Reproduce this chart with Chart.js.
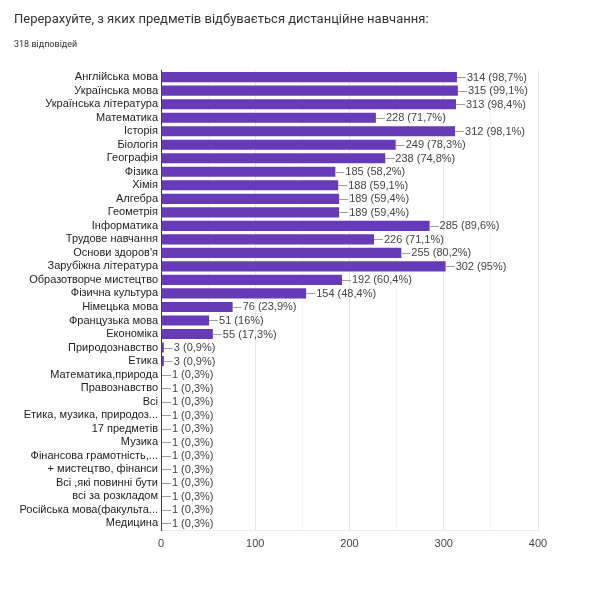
<!DOCTYPE html>
<html>
<head>
<meta charset="utf-8">
<script src="https://cdn.jsdelivr.net/npm/chart.js@4"></script>
<style>
  html, body { margin: 0; padding: 0; background: #fff; }
  #wrap { width: 600px; height: 600px; }
</style>
</head>
<body>
<div id="wrap"><canvas id="myChart" width="600" height="600"></canvas></div>
<script>
const categories = [
    'Англійська мова', 'Українська мова', 'Українська література', 'Математика',
    'Історія', 'Біологія', 'Географія', 'Фізика', 'Хімія', 'Алгебра', 'Геометрія',
    'Інформатика', 'Трудове навчання', "Основи здоров'я", 'Зарубіжна література',
    'Образотворче мистецтво', 'Фізична культура', 'Німецька мова', 'Французька мова',
    'Економіка', 'Природознавство', 'Етика', 'Математика,природа', 'Правознавство',
    'Всі', 'Етика, музика, природоз...', '17 предметів', 'Музика',
    'Фінансова грамотність,...', '+ мистецтво, фінанси', 'Всі ,які повинні бути',
    'всі за розкладом', 'Російська мова(факульта...', 'Медицина'
];
const counts = [
    314, 315, 313, 228, 312, 249, 238, 185, 188, 189, 189,
    285, 226, 255, 302, 192, 154, 76, 51, 55, 3, 3,
    1, 1, 1, 1, 1, 1, 1, 1, 1, 1, 1, 1
];
const percents = [
    '98,7', '99,1', '98,4', '71,7', '98,1', '78,3', '74,8', '58,2', '59,1', '59,4', '59,4',
    '89,6', '71,1', '80,2', '95', '60,4', '48,4', '23,9', '16', '17,3', '0,9', '0,9',
    '0,3', '0,3', '0,3', '0,3', '0,3', '0,3', '0,3', '0,3', '0,3', '0,3', '0,3', '0,3'
];
const xTicks = [0, 100, 200, 300, 400];

const barLabels = {
    id: 'barLabels',
    afterDatasetsDraw(chart) {
        const ctx = chart.ctx;
        const meta = chart.getDatasetMeta(0);
        ctx.save();
        ctx.font = '11px "Liberation Sans", Arial, sans-serif';
        ctx.textBaseline = 'middle';
        ctx.textAlign = 'left';
        meta.data.forEach((bar, i) => {
            ctx.strokeStyle = '#9e9e9e';
            ctx.lineWidth = 1;
            ctx.beginPath();
            ctx.moveTo(bar.x, Math.round(bar.y) + 0.5);
            ctx.lineTo(bar.x + 9, Math.round(bar.y) + 0.5);
            ctx.stroke();
            ctx.fillStyle = '#444';
            ctx.fillText(counts[i] + ' (' + percents[i] + '%)', bar.x + 10, bar.y + 0.5);
        });
        ctx.restore();
    }
};

let ctx = document.getElementById('myChart');
let myBarChart = new Chart(ctx, {
    type: 'bar',
    data: {
        labels: categories,
        datasets: [{
            data: counts,
            backgroundColor: '#673ab7',
            barPercentage: 0.75,
            categoryPercentage: 1.0
        }]
    },
    options: {
        indexAxis: 'y',
        responsive: false,
        animation: false,
        layout: {
            padding: { left: 14, right: 62, top: 0, bottom: 40 }
        },
        plugins: {
            legend: { display: false },
            tooltip: { enabled: false },
            title: {
                display: true,
                text: 'Перерахуйте, з яких предметів відбувається дистанційне навчання:',
                align: 'start',
                color: '#333',
                font: { family: 'Roboto', size: 13, weight: 'normal' },
                padding: { top: 12, bottom: 12 }
            },
            subtitle: {
                display: true,
                text: '318 відповідей',
                align: 'start',
                color: '#333',
                font: { family: 'Roboto', size: 9, weight: 'normal' },
                padding: { top: 0, bottom: 20 }
            }
        },
        scales: {
            x: {
                min: 0,
                max: 400,
                ticks: {
                    stepSize: 50,
                    padding: 7,
                    color: '#444',
                    font: { family: '"Liberation Sans", Arial', size: 11 },
                    callback: (v) => xTicks.includes(v) ? v : ''
                },
                grid: {
                    drawTicks: false,
                    color: (c) => (c.tick && c.tick.value % 100 === 0) ? '#e8e8e8' : '#f4f4f4'
                },
                border: { display: true, color: '#eeeeee' },
                afterFit: (scale) => { scale.height = 30; }
            },
            y: {
                ticks: {
                    autoSkip: false,
                    padding: 3,
                    color: '#222',
                    font: { family: '"Liberation Sans", Arial', size: 11 }
                },
                grid: { display: false, drawTicks: false },
                border: { display: true, color: '#333', width: 1 },
                afterFit: (scale) => { scale.width = 147; }
            }
        }
    },
    plugins: [barLabels]
});
</script>
</body>
</html>
